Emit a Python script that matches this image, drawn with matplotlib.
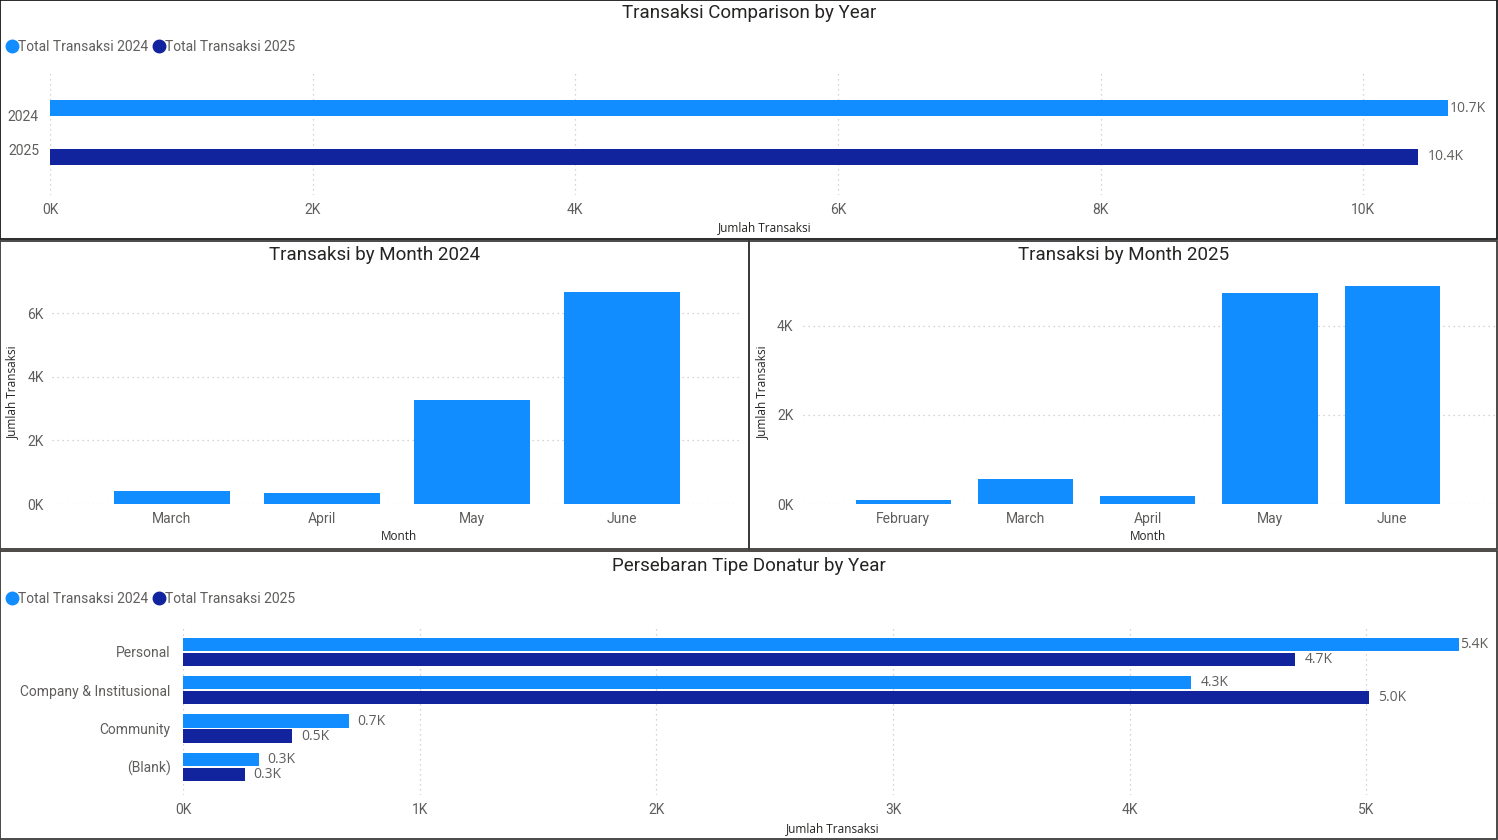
import matplotlib.pyplot as plt
from matplotlib.lines import Line2D
from matplotlib.patches import Rectangle

# data
years = ['2024', '2025']
year_totals = [10650, 10420]

months_2024 = ['March', 'April', 'May', 'June']
trans_2024 = [410, 360, 3270, 6660]

months_2025 = ['February', 'March', 'April', 'May', 'June']
trans_2025 = [90, 560, 190, 4740, 4900]

donor_types = ['Personal', 'Company & Institusional', 'Community', '(Blank)']
donor_2024 = [5390, 4260, 700, 320]
donor_2025 = [4700, 5010, 460, 260]

series_names = ['Total Transaksi 2024', 'Total Transaksi 2025']
C24 = '#118DFF'
C25 = '#12239E'
GRID = '#C8C6C4'
TICK = '#605E5C'
DARK = '#252423'
TITLE_FONT = ['Roboto', 'DejaVu Sans']
TEXT_FONT = ['Open Sans', 'DejaVu Sans']

W, H = 1498, 840
fig = plt.figure(figsize=(W / 100, H / 100), dpi=100)
fig.patch.set_facecolor('white')


def px_axes(x0, y0, x1, y1):
    return fig.add_axes([x0 / W, 1 - y1 / H, (x1 - x0) / W, (y1 - y0) / H])


def fx(x):
    return x / W


def fy(y):
    return 1 - y / H


def kfmt(v):
    return f'{v / 1000:.0f}K'


def panel(x0, y0, x1, y1, color='#3B3A39'):
    fig.add_artist(Rectangle((fx(x0), fy(y1)), fx(x1 - x0), (y1 - y0) / H,
                             transform=fig.transFigure, fill=False,
                             edgecolor=color, lw=1.3))


def title(x, y, s):
    fig.text(fx(x), fy(y), s, ha='center', va='center', fontsize=13.5,
             color=DARK, family=TITLE_FONT)


def legend(y):
    handles = [Line2D([], [], ls='', marker='o', ms=9, color=c) for c in (C24, C25)]
    fig.legend(handles, series_names, loc='center left',
               bbox_to_anchor=(fx(7), fy(y)), ncol=2, frameon=False,
               handlelength=0.7, handletextpad=0.1, columnspacing=0.4,
               borderpad=0, borderaxespad=0,
               prop={'family': TITLE_FONT, 'size': 10}, labelcolor=TICK)


def style(ax, grid_axis):
    for s in ax.spines.values():
        s.set_visible(False)
    ax.tick_params(length=0, labelcolor=TICK, labelsize=10)
    for lab in ax.get_xticklabels() + ax.get_yticklabels():
        lab.set_family(TITLE_FONT)
    ax.grid(axis=grid_axis, ls=(0, (1, 3)), color=GRID, lw=0.9)
    ax.set_axisbelow(True)


def bar_labels(ax, values, ypos, vmax):
    for v, y in zip(values, ypos):
        # the longest bar has no room, so its label sits at the bar end
        off = 1 if v == vmax else 9
        ax.annotate(f'{v / 1000:.1f}K', (v, y), xytext=(off, 0),
                    textcoords='offset pixels', ha='left', va='center',
                    fontsize=10, color=TICK, family=TEXT_FONT)


# panels
panel(0, 0, 1497, 239, color='#1a1a1a')
panel(0, 241, 749, 549)
panel(749, 241, 1497, 549)
panel(0, 551, 1497, 839)

# --- top: comparison by year ---
title(749, 13, 'Transaksi Comparison by Year')
legend(47)
ax = px_axes(50, 70, 1480, 195)
ypos = list(range(len(years)))
ax.barh(ypos, year_totals, height=0.33, color=[C24, C25])
ax.set_xlim(0, 10890)
ax.set_ylim(1.776, -0.776)
ax.set_xticks(range(0, 10001, 2000))
ax.set_xticklabels([kfmt(v) for v in range(0, 10001, 2000)])
ax.set_yticks([0.16, 0.84])
ax.set_yticklabels(years)
style(ax, 'x')
ax.tick_params(axis='x', pad=6)
ax.tick_params(axis='y', pad=8)
bar_labels(ax, year_totals, ypos, max(year_totals))
fig.text(fx(765), fy(228), 'Jumlah Transaksi', ha='center', va='center',
         fontsize=8.5, color=DARK, family=TEXT_FONT)

# --- middle left: month 2024 ---
title(375, 255, 'Transaksi by Month 2024')
ax = px_axes(52, 275, 740, 504)
ax.bar(range(len(months_2024)), trans_2024, width=0.77, color=C24)
ax.set_xlim(-0.8, 3.787)
ax.set_ylim(0, 7194)
ax.set_xticks(range(len(months_2024)))
ax.set_xticklabels(months_2024)
ax.set_yticks(range(0, 6001, 2000))
ax.set_yticklabels([kfmt(v) for v in range(0, 6001, 2000)])
style(ax, 'y')
ax.tick_params(axis='x', pad=6)
ax.tick_params(axis='y', pad=6)
fig.text(fx(399), fy(537), 'Month', ha='center', va='center',
         fontsize=8.5, color=DARK, family=TEXT_FONT)
fig.text(fx(12), fy(392), 'Jumlah Transaksi', ha='center', va='center',
         rotation=90, fontsize=8.5, color=DARK, family=TEXT_FONT)

# --- middle right: month 2025 ---
title(1124, 255, 'Transaksi by Month 2025')
ax = px_axes(803, 275, 1495, 504)
ax.bar(range(len(months_2025)), trans_2025, width=0.78, color=C24)
ax.set_xlim(-0.82, 4.84)
ax.set_ylim(0, 5146)
ax.set_xticks(range(len(months_2025)))
ax.set_xticklabels(months_2025)
ax.set_yticks(range(0, 4001, 2000))
ax.set_yticklabels([kfmt(v) for v in range(0, 4001, 2000)])
style(ax, 'y')
ax.tick_params(axis='x', pad=6)
ax.tick_params(axis='y', pad=7)
fig.text(fx(1148), fy(537), 'Month', ha='center', va='center',
         fontsize=8.5, color=DARK, family=TEXT_FONT)
fig.text(fx(762), fy(392), 'Jumlah Transaksi', ha='center', va='center',
         rotation=90, fontsize=8.5, color=DARK, family=TEXT_FONT)

# --- bottom: donor types ---
title(749, 566, 'Persebaran Tipe Donatur by Year')
legend(599)
ax = px_axes(183, 625, 1480, 795)
cats = list(range(len(donor_types)))
off = 0.196
y24 = [c - off for c in cats]
y25 = [c + off for c in cats]
ax.barh(y24, donor_2024, height=0.35, color=C24)
ax.barh(y25, donor_2025, height=0.35, color=C25)
ax.set_xlim(0, 5480)
ax.set_ylim(3.73, -0.70)
ax.set_xticks(range(0, 5001, 1000))
ax.set_xticklabels([kfmt(v) for v in range(0, 5001, 1000)])
ax.set_yticks(cats)
ax.set_yticklabels(donor_types)
style(ax, 'x')
ax.tick_params(axis='x', pad=6)
ax.tick_params(axis='y', pad=9)
vmax = max(donor_2024 + donor_2025)
bar_labels(ax, donor_2024, y24, vmax)
bar_labels(ax, donor_2025, y25, vmax)
fig.text(fx(833), fy(829), 'Jumlah Transaksi', ha='center', va='center',
         fontsize=8.5, color=DARK, family=TEXT_FONT)

plt.savefig('out.png', dpi=100)
